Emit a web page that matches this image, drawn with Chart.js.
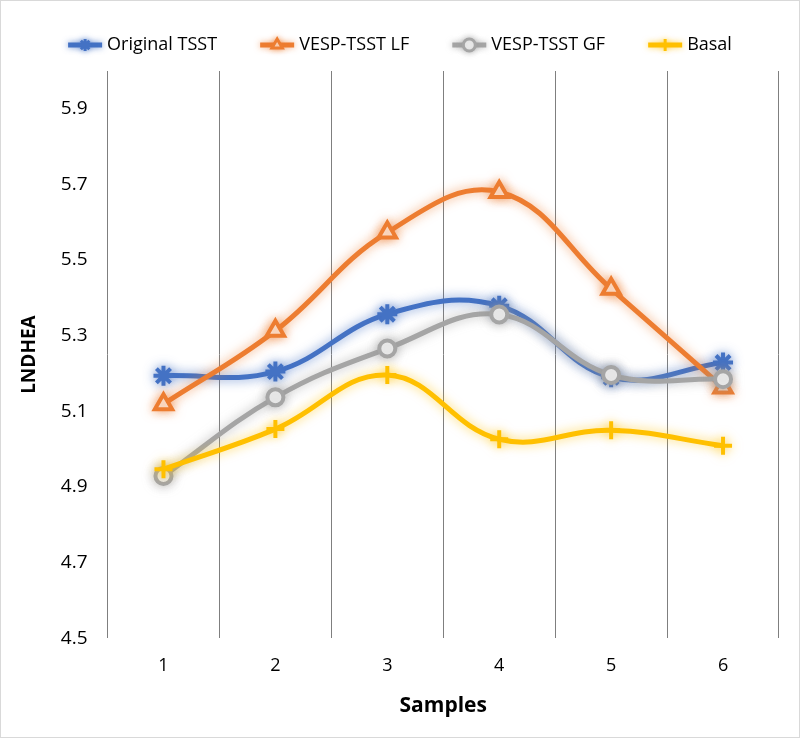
<!DOCTYPE html>
<html>
<head>
<meta charset="utf-8">
<script src="https://cdn.jsdelivr.net/npm/chart.js@4"></script>
<style>
  html, body { margin: 0; padding: 0; background: #ffffff; }
  canvas { display: block; }
</style>
</head>
<body>
<canvas id="chart" width="800" height="738"></canvas>
<script>
const samples = ["1", "2", "3", "4", "5", "6"];
const seriesNames = ["Original TSST", "VESP-TSST LF", "VESP-TSST GF", "Basal"];
const originalTsst = [5.194, 5.205, 5.357, 5.379, 5.19, 5.229];
const vespLf = [5.119, 5.313, 5.573, 5.68, 5.424, 5.163];
const vespGf = [4.929, 5.137, 5.266, 5.356, 5.196, 5.185];
const basal = [4.947, 5.053, 5.196, 5.026, 5.05, 5.009];
const yTicks = [4.5, 4.7, 4.9, 5.1, 5.3, 5.5, 5.7, 5.9];

const fontFamily = "'Open Sans', Lato, sans-serif";

// soft glow under each series, like the Excel effect
const glowPlugin = {
  id: "glow",
  beforeDatasetDraw(chart, args) {
    const ds = chart.data.datasets[args.index];
    chart.ctx.save();
    chart.ctx.shadowColor = ds.glow;
    chart.ctx.shadowBlur = 11;
  },
  afterDatasetDraw(chart) {
    chart.ctx.restore();
  },
};

// Excel style legend: short line with the marker on it, then the name
const lineLegend = {
  id: "lineLegend",
  afterDraw(chart) {
    const ctx = chart.ctx;
    const datasets = chart.data.datasets;
    const lineLen = 34;
    const gap = 43;
    ctx.save();
    ctx.font = "18px " + fontFamily;
    const widths = datasets.map((ds) => lineLen + 5 + ctx.measureText(ds.label).width);
    const total = widths.reduce((a, b) => a + b, 0) + gap * (datasets.length - 1);
    let x = (chart.width - total) / 2;
    const y = 45;
    datasets.forEach((ds, i) => {
      ctx.save();
      ctx.shadowColor = ds.glow;
      ctx.shadowBlur = 6;
      ctx.strokeStyle = ds.borderColor;
      ctx.lineWidth = 5;
      ctx.beginPath();
      ctx.moveTo(x, y);
      ctx.lineTo(x + lineLen, y);
      ctx.stroke();
      ctx.fillStyle = ds.pointBackgroundColor;
      ctx.strokeStyle = ds.borderColor;
      ctx.lineWidth = 3;
      Chart.helpers.drawPoint(ctx, { pointStyle: ds.pointStyle, radius: 6, borderWidth: 3, rotation: 0 }, x + lineLen / 2, y);
      ctx.restore();
      ctx.fillStyle = "#000000";
      ctx.textBaseline = "middle";
      ctx.textAlign = "left";
      ctx.fillText(ds.label, x + lineLen + 5, y);
      x += widths[i] + gap;
    });
    ctx.restore();
  },
};

// thin light frame round the whole picture
const framePlugin = {
  id: "frame",
  afterDraw(chart) {
    const ctx = chart.ctx;
    ctx.save();
    ctx.strokeStyle = "#d9d9d9";
    ctx.lineWidth = 1;
    ctx.strokeRect(0.5, 0.5, chart.width - 1, chart.height - 1);
    ctx.restore();
  },
};

function series(label, data, color, glow, style, radius, order) {
  return {
    label: label,
    data: data,
    borderColor: color,
    backgroundColor: color,
    pointBackgroundColor: style === "triangle" || style === "circle" ? "#ffffff" : color,
    pointBorderColor: color,
    pointStyle: style,
    pointRadius: radius,
    pointBorderWidth: 4,
    borderWidth: 5,
    tension: 0.4,
    glow: glow,
    order: order,
  };
}

new Chart(document.getElementById("chart"), {
  type: "line",
  data: {
    labels: samples,
    datasets: [
      series(seriesNames[0], originalTsst, "#4472C4", "rgba(68,114,196,0.75)", "star", 10, 3),
      series(seriesNames[1], vespLf, "#ED7D31", "rgba(237,125,49,0.65)", "triangle", 10, 2),
      series(seriesNames[2], vespGf, "#A5A5A5", "rgba(150,150,150,0.65)", "circle", 8, 1),
      series(seriesNames[3], basal, "#FFC000", "rgba(255,192,0,0.65)", "cross", 9, 0),
    ],
  },
  options: {
    responsive: false,
    animation: false,
    layout: { padding: { top: 71, right: 21, left: 18, bottom: 19 } },
    plugins: {
      legend: { display: false },
      tooltip: { enabled: false },
    },
    scales: {
      x: {
        offset: true,
        grid: { offset: true, color: "#7f7f7f", lineWidth: 1, drawTicks: false },
        border: { display: false },
        ticks: { color: "#000000", font: { family: fontFamily, size: 18 }, padding: 17 },
        title: {
          display: true,
          text: "Samples",
          color: "#000000",
          font: { family: fontFamily, size: 21, weight: "bold" },
          padding: { top: 0, bottom: 0 },
        },
      },
      y: {
        min: 4.5,
        max: 6.0,
        afterBuildTicks: function (axis) {
          axis.ticks = yTicks.map((v) => ({ value: v }));
        },
        grid: { display: false, drawTicks: false },
        border: { display: false },
        ticks: {
          color: "#000000",
          font: { family: fontFamily, size: 19 },
          padding: 20,
          callback: function (value) {
            return value.toFixed(1);
          },
        },
        title: {
          display: true,
          text: "LNDHEA",
          color: "#000000",
          font: { family: fontFamily, size: 19, weight: "bold" },
          padding: { top: 0, bottom: 0 },
        },
      },
    },
  },
  plugins: [glowPlugin, lineLegend, framePlugin],
});
</script>
</body>
</html>
